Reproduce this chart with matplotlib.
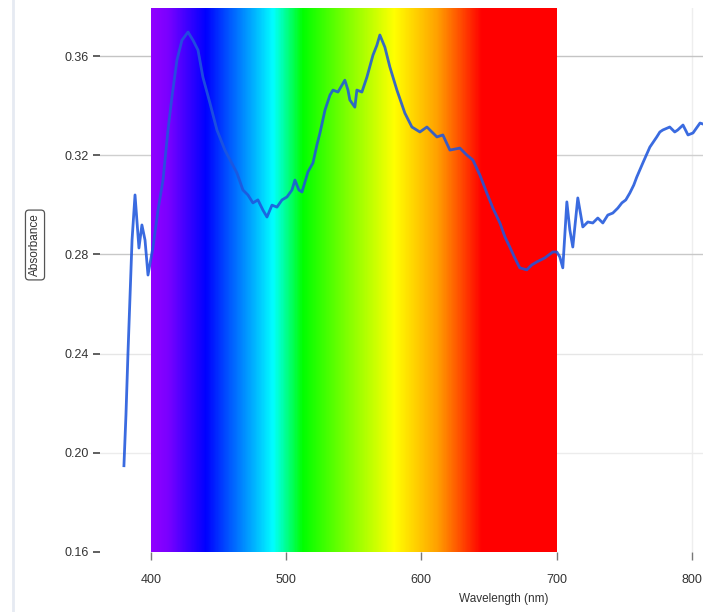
import numpy as np
import matplotlib
matplotlib.use('Agg')
import matplotlib.pyplot as plt
from matplotlib.colors import LinearSegmentedColormap
from matplotlib.lines import Line2D

# Absorbance spectrum
wavelength = [380.0, 381.5, 383.0, 386.0, 388.2, 391.1, 393.3, 395.6, 397.8, 401.5,
              405.2, 408.9, 412.6, 415.5, 419.2, 422.9, 427.4, 431.1, 434.8, 438.4,
              443.6, 448.8, 454.7, 463.6, 468.0, 471.7, 475.4, 479.1, 482.8, 485.8,
              489.5, 493.2, 496.9, 500.6, 504.3, 506.5, 509.4, 511.7, 516.1, 519.8,
              522.7, 525.0, 528.7, 532.4, 534.6, 538.3, 543.4, 545.7, 547.1, 550.8,
              552.3, 556.0, 559.7, 564.2, 567.1, 569.3, 573.0, 576.7, 581.9, 587.8,
              593.0, 598.9, 604.1, 611.5, 615.9, 621.1, 628.5, 633.6, 638.1, 643.3,
              648.4, 652.9, 658.1, 661.8, 665.4, 669.1, 672.8, 678.0, 681.7, 685.4,
              691.3, 697.2, 700.2, 702.4, 704.6, 707.6, 709.8, 712.0, 715.7, 719.4,
              723.1, 726.8, 730.5, 734.2, 737.9, 741.6, 745.3, 748.3, 751.2, 754.2,
              757.1, 759.3, 763.8, 769.0, 774.1, 776.4, 778.6, 783.7, 787.4, 789.6,
              793.5, 797.2, 800.9, 806.1, 808.3]
absorbance = [0.1948, 0.2153, 0.2403, 0.2858, 0.3040, 0.2826, 0.2919, 0.2858, 0.2717, 0.2830,
              0.2979, 0.3100, 0.3302, 0.3435, 0.3584, 0.3664, 0.3697, 0.3664, 0.3624, 0.3515,
              0.3411, 0.3302, 0.3221, 0.3128, 0.3060, 0.3040, 0.3008, 0.3020, 0.2979, 0.2951,
              0.2999, 0.2991, 0.3020, 0.3032, 0.3060, 0.3100, 0.3060, 0.3052, 0.3133, 0.3169,
              0.3241, 0.3290, 0.3382, 0.3443, 0.3463, 0.3455, 0.3503, 0.3463, 0.3423, 0.3394,
              0.3463, 0.3455, 0.3515, 0.3604, 0.3644, 0.3685, 0.3636, 0.3556, 0.3463, 0.3370,
              0.3314, 0.3294, 0.3314, 0.3274, 0.3282, 0.3221, 0.3229, 0.3201, 0.3181, 0.3120,
              0.3048, 0.2987, 0.2927, 0.2871, 0.2830, 0.2786, 0.2746, 0.2738, 0.2758, 0.2770,
              0.2786, 0.2810, 0.2810, 0.2790, 0.2746, 0.3012, 0.2899, 0.2830, 0.3028, 0.2911,
              0.2931, 0.2927, 0.2947, 0.2927, 0.2959, 0.2967, 0.2987, 0.3008, 0.3020, 0.3048,
              0.3080, 0.3112, 0.3169, 0.3233, 0.3274, 0.3294, 0.3302, 0.3314, 0.3294, 0.3302,
              0.3322, 0.3282, 0.3290, 0.3330, 0.3326]

y_ticks = [0.16, 0.20, 0.24, 0.28, 0.32, 0.36]
x_ticks = [400, 500, 600, 700, 800]

# visible spectrum band, colour stops (nm, colour)
band = (400, 700)
spec_stops = [(400, '#9000ff'), (412, '#7a00ff'), (440, '#0000ff'), (456, '#0050ff'),
              (476, '#00b4ff'), (490, '#00ffff'), (512, '#00ff00'), (545, '#80ff00'),
              (580, '#ffff00'), (612, '#ffa000'), (645, '#ff0000'), (700, '#ff0000')]

fig = plt.figure(figsize=(7.03, 6.12), dpi=100)
ax = fig.add_axes([100 / 703, 60 / 612, 603 / 703, 544 / 612])

ylo, yhi = 0.16, 0.3794
xlo, xhi = 362.3, 808.3

pos = [(w - band[0]) / (band[1] - band[0]) for w, _ in spec_stops]
cmap = LinearSegmentedColormap.from_list('spec', list(zip(pos, [c for _, c in spec_stops])))
grad = np.linspace(0, 1, 600).reshape(1, -1)
ax.imshow(grad, cmap=cmap, aspect='auto', extent=[band[0], band[1], ylo, yhi],
          zorder=1, interpolation='bilinear')

ax.plot(wavelength, absorbance, color='#1f56dc', lw=2.0, alpha=0.88, zorder=3,
        solid_joinstyle='round')

ax.set_xlim(xlo, xhi)
ax.set_ylim(ylo, yhi)
ax.set_yticks(y_ticks)
ax.set_xticks(x_ticks)
ax.set_yticklabels(['%.2f' % v for v in y_ticks])

for s in ax.spines.values():
    s.set_visible(False)

ax.set_axisbelow(True)
ax.yaxis.grid(True, lw=1.0)
ax.xaxis.grid(True, lw=1.0, color='#f0f0f0')
grid_cols = ['none', '#ececec', '#e6e6e6', '#c8c8c8', '#cfcfcf', '#c4c4c4']
for gl, c in zip(ax.get_ygridlines(), grid_cols):
    gl.set_color(c)
xgrid_cols = ['none', 'none', 'none', 'none', '#eeeeee']
for gl, c in zip(ax.get_xgridlines(), xgrid_cols):
    gl.set_color(c)

ax.tick_params(axis='y', length=5, width=1.2, color='#444444', pad=3,
               labelsize=9, labelcolor='#333333')
ax.tick_params(axis='x', length=6, width=1.0, color='#777777', pad=10,
               labelsize=9, labelcolor='#333333')
for t in ax.get_yticklabels() + ax.get_xticklabels():
    t.set_family('Liberation Sans')

ax.set_xlabel('Wavelength (nm)', fontsize=8.5, color='#333333', family='Liberation Sans')
ax.xaxis.set_label_coords(0.67, -0.075)

fig.text(35 / 703, 1 - 245 / 612, 'Absorbance', rotation=90, ha='center', va='center',
         fontsize=8.5, color='#333333', family='Liberation Sans',
         bbox=dict(boxstyle='round,pad=0.3', fc='white', ec='#555555', lw=0.9))

# thin border strip at the left edge of the screenshot
fig.add_artist(Line2D([13 / 703, 13 / 703], [0, 1], color='#e6eaf2', lw=2.0))

fig.savefig('out.png', dpi=100)
